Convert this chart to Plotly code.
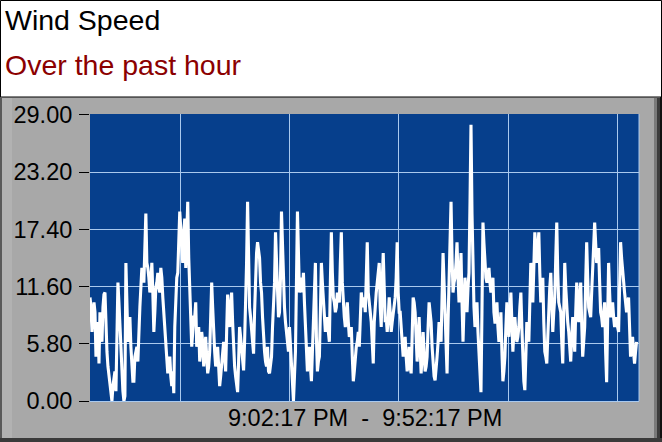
import plotly.graph_objects as go

# ---------------- data ----------------
title_text = "Wind Speed"
subtitle_text = "Over the past hour"
start_label = "9:02:17 PM"
end_label = "9:52:17 PM"
window_seconds = 3000          # 50 minutes shown
sample_interval_s = 5.45       # seconds between samples

# readings at even sample indices (0, 2, 4, ...)
wind_even = [
    10.5, 7.0, 10.0, 4.5, 8.0, 9.0, 6.0, 10.8, 7.0, 3.5,
    1.5, 0.0, 2.5, 1.0, 12.0, 7.5, 3.0, 0.0, 14.0, 6.0,
    8.5, 3.0, 2.0, 5.0, 4.0, 9.5, 13.5, 12.0, 19.0, 13.5,
    11.0, 14.0, 7.0, 11.5, 13.0, 11.0, 12.5, 9.0, 6.0, 2.8,
    4.5, 1.5, 0.8, 10.0, 13.0, 19.2, 15.0, 17.0, 13.5, 20.2,
    11.0, 5.5, 8.5, 10.0, 6.0, 4.0, 7.0, 3.5, 6.5, 2.8,
    5.0, 12.0, 6.5, 3.5, 5.5, 1.5, 4.0, 6.0, 3.0, 10.8,
    7.5, 11.0, 5.0, 2.5, 0.9, 7.5, 5.5, 3.1, 9.0, 20.2,
    9.5, 7.5, 4.8, 13.0, 16.1, 14.5, 11.0, 6.0, 4.0, 5.5,
    2.8, 4.5, 9.5, 17.1, 10.5, 9.0, 19.2, 12.0, 8.0, 6.0,
    7.5, 3.5, 0.0, 5.0, 19.2, 11.0, 12.5, 13.0, 7.0, 3.0,
    5.5, 2.0, 8.0, 14.0, 3.0, 4.5, 14.0, 10.5, 7.0, 8.5,
    6.0, 17.1, 10.5, 9.0, 11.0, 10.0, 17.1, 9.5, 7.5, 10.0,
    6.5, 7.5, 2.0, 4.5, 6.0, 5.5, 11.0, 9.5, 9.0, 16.1,
    9.5, 8.0, 3.8, 10.0, 12.0, 14.0, 7.5, 15.0, 8.0, 7.0,
    10.5, 7.0, 9.0, 10.5, 16.1, 9.0, 7.5, 4.5, 6.5, 3.0,
    5.5, 2.8, 10.5, 9.0, 4.0, 8.5, 2.8, 7.0, 3.0, 4.5,
    10.0, 8.0, 3.5, 2.1, 4.5, 8.0, 6.0, 15.0, 9.5, 2.8,
    13.0, 20.2, 11.0, 12.5, 16.1, 10.0, 15.0, 6.0, 12.5, 9.0,
    13.0, 28.0, 12.0, 7.5, 10.0, 5.0, 0.9, 18.1, 14.0, 12.0,
    13.5, 11.0, 12.5, 8.0, 10.0, 6.0, 9.0, 2.0, 4.5, 10.0,
    6.5, 11.0, 5.0, 8.5, 6.0, 7.5, 11.0, 4.0, 1.1, 8.0,
    6.0, 14.0, 10.0, 17.1, 14.0, 17.1, 10.0, 12.5, 5.0, 3.8,
    9.5, 13.0, 7.0, 10.5, 18.1, 10.0, 9.0, 3.8, 14.0, 9.0,
    7.0, 4.0, 8.5, 5.0, 12.0, 8.0, 12.0, 4.5, 7.5, 16.1,
    9.5, 8.5, 13.5, 18.1, 14.0, 15.5, 9.0, 7.5, 10.0, 1.9,
    14.0, 8.5, 10.0, 7.5, 8.5, 7.0, 16.1, 13.0, 11.0, 9.0,
    10.5, 4.5, 6.5, 3.8, 6.0,
]

# readings at odd sample indices (1, 3, 5, ...)
wind_odd = [
    9.5, 8.5, 9.0, 6.5, 3.8, 7.5, 9.5, 11.0, 5.0, 2.5,
    0.5, 1.5, 3.0, 8.0, 10.0, 5.0, 1.0, 0.5, 10.5, 8.0,
    5.5, 2.0, 4.5, 5.5, 8.0, 11.5, 13.0, 15.5, 14.0, 12.5,
    12.0, 11.0, 9.0, 12.0, 11.5, 13.5, 10.5, 8.0, 4.0, 3.5,
    2.5, 3.0, 7.5, 12.5, 16.0, 17.5, 14.0, 18.5, 16.0, 14.5,
    8.0, 7.0, 8.5, 5.5, 7.5, 5.0, 6.0, 5.0, 4.5, 3.5,
    8.5, 9.5, 5.0, 4.0, 3.0, 2.5, 5.5, 4.5, 7.0, 9.0,
    9.5, 8.0, 3.5, 1.5, 4.0, 6.5, 4.5, 6.0, 14.0, 12.0,
    8.5, 6.0, 9.0, 15.0, 15.5, 12.0, 8.5, 5.0, 3.5, 3.0,
    3.5, 7.5, 12.0, 14.0, 8.5, 12.5, 15.0, 9.5, 7.0, 5.0,
    5.5, 1.5, 2.5, 12.0, 15.0, 12.0, 11.0, 10.0, 5.0, 4.5,
    3.5, 5.0, 10.0, 6.5, 4.0, 9.0, 12.0, 8.5, 8.0, 7.0,
    12.0, 13.0, 10.0, 9.5, 10.5, 14.0, 12.0, 8.5, 8.5, 8.0,
    7.0, 4.5, 3.0, 5.5, 7.0, 9.0, 10.0, 10.5, 12.5, 11.0,
    9.0, 6.0, 8.0, 11.0, 13.0, 9.5, 12.0, 11.5, 8.5, 8.5,
    9.0, 8.0, 9.5, 12.5, 11.0, 9.0, 6.0, 5.5, 4.5, 4.0,
    3.5, 6.5, 10.0, 6.5, 6.0, 5.5, 4.5, 5.0, 3.5, 7.5,
    9.0, 5.5, 2.5, 3.0, 6.0, 7.0, 10.5, 12.0, 6.0, 8.0,
    17.0, 14.5, 12.0, 14.0, 12.5, 12.5, 10.0, 9.5, 11.0, 11.5,
    20.0, 19.0, 9.5, 8.5, 7.0, 3.0, 9.0, 16.0, 12.5, 13.0,
    12.0, 11.5, 9.0, 8.0, 7.5, 7.0, 5.0, 3.0, 7.5, 8.5,
    9.0, 8.0, 7.0, 7.0, 6.5, 9.5, 7.5, 2.0, 4.5, 7.0,
    10.0, 12.0, 13.5, 15.5, 15.5, 13.0, 11.0, 8.0, 4.5, 6.5,
    11.5, 10.0, 9.0, 14.5, 13.0, 9.5, 6.0, 9.0, 11.5, 8.0,
    5.5, 6.5, 7.0, 9.0, 10.5, 10.0, 8.0, 6.0, 12.0, 12.5,
    9.0, 11.0, 16.0, 16.0, 14.5, 12.0, 8.5, 9.0, 5.0, 8.0,
    11.0, 9.0, 8.5, 8.0, 7.5, 11.5, 14.5, 12.0, 10.0, 10.0,
    7.5, 5.5, 5.0, 5.0,
]

wind_speed = []
for i, v in enumerate(wind_even):
    wind_speed.append(v)
    if i < len(wind_odd):
        wind_speed.append(wind_odd[i])
elapsed_s = [i * sample_interval_s for i in range(len(wind_speed))]

y_ticks = [0.0, 5.8, 11.6, 17.4, 23.2, 29.0]
y_tick_labels = [f"{v:.2f}" for v in y_ticks]
x_grid_s = [492, 1090, 1688, 2286, 2880]

# ---------------- layout geometry ----------------
W, H = 662, 442
L, R, T, B = 90, 23, 114, 41
PW, PH = W - L - R, H - T - B


def px(x):
    return (x - L) / PW


def py(y):
    return (H - B - y) / PH


FONT = "Liberation Sans, Arial, sans-serif"
GRID = "#a9c9ee"

fig = go.Figure()
fig.add_trace(go.Scatter(
    x=elapsed_s, y=wind_speed, mode="lines",
    line=dict(color="white", width=3.1), hoverinfo="skip", showlegend=False,
))

shapes = [
    # white header with black border
    dict(type="rect", xref="paper", yref="paper",
         x0=px(0.5), x1=px(661.5), y0=py(97), y1=py(0.5),
         fillcolor="white", line=dict(color="black", width=1), layer="below"),
    # left edge of panel
    dict(type="rect", xref="paper", yref="paper",
         x0=px(0), x1=px(2), y0=py(442), y1=py(97),
         fillcolor="#5a5a5a", line=dict(width=0), layer="below"),
    dict(type="rect", xref="paper", yref="paper",
         x0=px(2), x1=px(12), y0=py(438), y1=py(98),
         fillcolor="#b2b2b2", line=dict(width=0), layer="below"),
    # right shadow
    dict(type="rect", xref="paper", yref="paper",
         x0=px(654), x1=px(657), y0=py(442), y1=py(98),
         fillcolor="#7a7a7a", line=dict(width=0), layer="below"),
    dict(type="rect", xref="paper", yref="paper",
         x0=px(657), x1=px(660), y0=py(442), y1=py(98),
         fillcolor="#3c3c3c", line=dict(width=0), layer="below"),
    dict(type="rect", xref="paper", yref="paper",
         x0=px(660), x1=px(662), y0=py(442), y1=py(97),
         fillcolor="#111111", line=dict(width=0), layer="below"),
    # bottom dark edge
    dict(type="rect", xref="paper", yref="paper",
         x0=px(0), x1=px(662), y0=py(442), y1=py(438),
         fillcolor="#3a3a3a", line=dict(width=0), layer="below"),
    # right border of plot
    dict(type="line", xref="paper", yref="paper",
         x0=1, x1=1, y0=0, y1=1, line=dict(color=GRID, width=1)),
]

annotations = [
    dict(text=title_text, xref="paper", yref="paper", x=px(3), y=py(20),
         xanchor="left", yanchor="middle", showarrow=False,
         font=dict(family=FONT, size=28.5, color="black")),
    dict(text=subtitle_text, xref="paper", yref="paper", x=px(3), y=py(65),
         xanchor="left", yanchor="middle", showarrow=False,
         font=dict(family=FONT, size=28.5, color="#8b0000")),
    dict(text=f"{start_label}\u00a0\u00a0-\u00a0\u00a0{end_label}",
         xref="paper", yref="paper", x=0.5, y=py(418),
         xanchor="center", yanchor="middle", showarrow=False,
         font=dict(family=FONT, size=23.5, color="black")),
]

fig.update_layout(
    width=W, height=H,
    margin=dict(l=L, r=R, t=T, b=B, pad=0),
    paper_bgcolor="#a8a8a8",
    plot_bgcolor="#063f8c",
    showlegend=False,
    shapes=shapes,
    annotations=annotations,
    xaxis=dict(range=[0, window_seconds], tickvals=x_grid_s, showticklabels=False,
               ticks="", showgrid=True, gridcolor=GRID, gridwidth=1,
               zeroline=False, showline=True, linecolor=GRID, linewidth=1,
               fixedrange=True),
    yaxis=dict(range=[0, 29.1], tickvals=y_ticks, ticktext=y_tick_labels,
               ticks="outside", ticklen=10, tickcolor="black", tickwidth=1,
               showgrid=True, gridcolor=GRID, gridwidth=1, zeroline=False,
               showline=False, ticklabelstandoff=2,
               tickfont=dict(family=FONT, size=23.5, color="black"),
               fixedrange=True),
)

fig.write_html(
    "out.html",
    config={"displayModeBar": False},
    post_script="document.body.style.margin='0';document.body.style.overflow='hidden';",
)
